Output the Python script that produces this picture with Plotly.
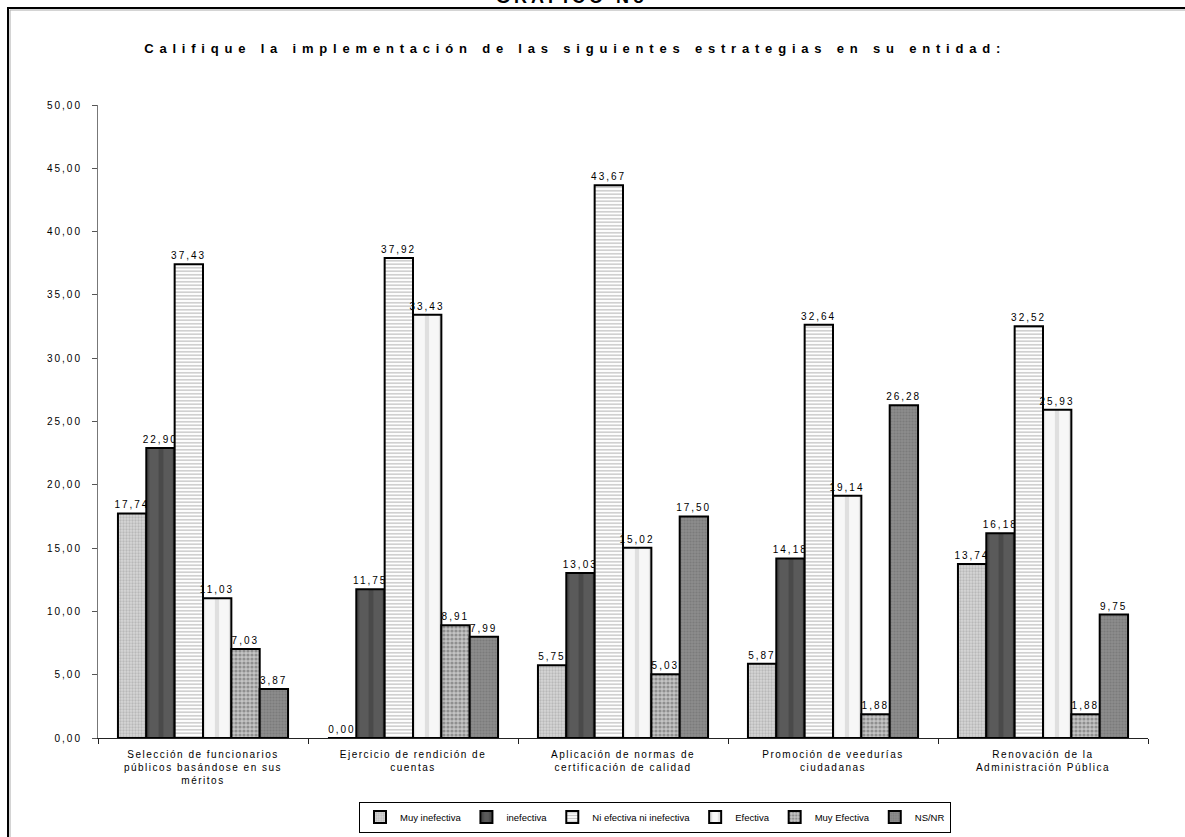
import plotly.graph_objects as go

# ---------------- data ----------------
categories = [
    "Selección de funcionarios<br>públicos basándose en sus<br>méritos",
    "Ejercicio de rendición de<br>cuentas",
    "Aplicación de normas de<br>certificación de calidad",
    "Promoción de veedurías<br>ciudadanas",
    "Renovación de la<br>Administración Pública",
]
series_names = ["Muy inefectiva", "inefectiva", "Ni efectiva ni inefectiva",
                "Efectiva", "Muy Efectiva", "NS/NR"]
muy_inefectiva = [17.74, 0.00, 5.75, 5.87, 13.74]
inefectiva = [22.90, 11.75, 13.03, 14.18, 16.18]
ni_efectiva_ni_inefectiva = [37.43, 37.92, 43.67, 32.64, 32.52]
efectiva = [11.03, 33.43, 15.02, 19.14, 25.93]
muy_efectiva = [7.03, 8.91, 5.03, 1.88, 1.88]
ns_nr = [3.87, 7.99, 17.50, 26.28, 9.75]
y_tick_values = [0, 5, 10, 15, 20, 25, 30, 35, 40, 45, 50]

title_text = "GRAFICO No"
subtitle_text = "Califique la implementación de las siguientes estrategias en su entidad:"

# ---------------- styles ----------------
series_values = [muy_inefectiva, inefectiva, ni_efectiva_ni_inefectiva,
                 efectiva, muy_efectiva, ns_nr]
styles = [
    dict(color="#cfcfcf", pattern=dict(shape=".", fgcolor="#9a9a9a", bgcolor="#d6d6d6", size=3, solidity=0.45)),
    dict(color="#4f4f4f", pattern=dict(shape="|", fgcolor="#3a3a3a", bgcolor="#5a5a5a", size=14, solidity=0.35)),
    dict(color="#ffffff", pattern=dict(shape="-", fgcolor="#8a8a8a", bgcolor="#ffffff", size=3.5, solidity=0.4)),
    dict(color="#efefef", pattern=dict(shape="|", fgcolor="#c8c8c8", bgcolor="#f7f7f7", size=14, solidity=0.3)),
    dict(color="#aaaaaa", pattern=dict(shape=".", fgcolor="#5a5a5a", bgcolor="#c4c4c4", size=4, solidity=0.5)),
    dict(color="#858585", pattern=dict(shape=".", fgcolor="#6a6a6a", bgcolor="#8c8c8c", size=3, solidity=0.4)),
]

FONT = "Arial, Liberation Sans, sans-serif"

fig = go.Figure()
for name, vals, st in zip(series_names, series_values, styles):
    fig.add_trace(go.Bar(
        x=categories, y=vals, name=name,
        marker=dict(color=st["color"], pattern=st["pattern"],
                    line=dict(color="#000000", width=2)),
        texttemplate="%{y:.2f}", textposition="outside",
        textfont=dict(family=FONT, size=10, color="#000000"),
        cliponaxis=False,
    ))

W, H = 1185, 837
L, R, T, B = 98, 37, 105, 99
PW, PH = W - L - R, H - T - B


def px(xp):
    return (xp - L) / PW


def py(yp):
    return (H - B - yp) / PH


fig.update_layout(
    width=W, height=H, autosize=False,
    margin=dict(l=L, r=R, t=T, b=B, autoexpand=False),
    paper_bgcolor="white", plot_bgcolor="white",
    separators=",.",
    barmode="group", bargap=0.19, bargroupgap=0,
    font=dict(family=FONT, size=10, color="#000000"),
    showlegend=True,
    legend=dict(orientation="h", x=px(655), xanchor="center", y=py(817), yanchor="middle",
                bordercolor="#000000", borderwidth=1, bgcolor="white",
                font=dict(family=FONT, size=9.5, color="#000000"),
                itemwidth=30, tracegroupgap=0, traceorder="normal"),
    xaxis=dict(showgrid=False, showline=True, linecolor="#222222", linewidth=1,
               ticks="outside", tickson="boundaries", ticklen=5, tickcolor="#222222",
               ticklabelstandoff=7,
               tickfont=dict(family=FONT, size=10, color="#000000"), zeroline=False,
               automargin=False),
    yaxis=dict(range=[0, 50], tickvals=y_tick_values, tickformat=".2f",
               showgrid=False, showline=True, linecolor="#777777", linewidth=1,
               ticks="outside", ticklen=5, tickcolor="#555555",
               ticklabelstandoff=8,
               tickfont=dict(family=FONT, size=10, color="#000000"), zeroline=False,
               automargin=False),
    annotations=[
        dict(text="<b>" + subtitle_text + "</b>", xref="paper", yref="paper",
             x=px(575), y=py(48), xanchor="center", yanchor="middle", showarrow=False,
             font=dict(family=FONT, size=13, color="#000000")),
        dict(text="<b>" + title_text + "</b>", xref="paper", yref="paper",
             x=px(572), y=py(-3), xanchor="center", yanchor="middle", showarrow=False,
             font=dict(family=FONT, size=18, color="#000000")),
    ],
    shapes=[
        dict(type="rect", xref="paper", yref="paper",
             x0=px(10), x1=px(1195), y0=py(850), y1=py(10),
             line=dict(color="#aaaaaa", width=1), layer="below"),
        dict(type="rect", xref="paper", yref="paper",
             x0=px(8), x1=px(1195), y0=py(850), y1=py(8),
             line=dict(color="#000000", width=2), layer="below"),
    ],
)

post_script = """
(function(){
  document.body.style.margin = '0';
  document.body.style.padding = '0';
  var gd = document.getElementById('{plot_id}');
  function apply(){
    var rules = [['.ytick text','2px'], ['.xtick text','1.5px'], ['text.bartext','2px']];
    rules.forEach(function(r){
      gd.querySelectorAll(r[0]).forEach(function(t){ t.style.letterSpacing = r[1]; });
    });
    gd.querySelectorAll('.annotation-text').forEach(function(t){
      var s = t.textContent || '';
      t.style.letterSpacing = (s.indexOf('Califique') === 0) ? '5.8px' : '4px';
    });
  }
  apply();
  if (gd.on) { gd.on('plotly_afterplot', apply); }
})();
"""

fig.write_html("out.html", post_script=post_script, config={"displayModeBar": False})
